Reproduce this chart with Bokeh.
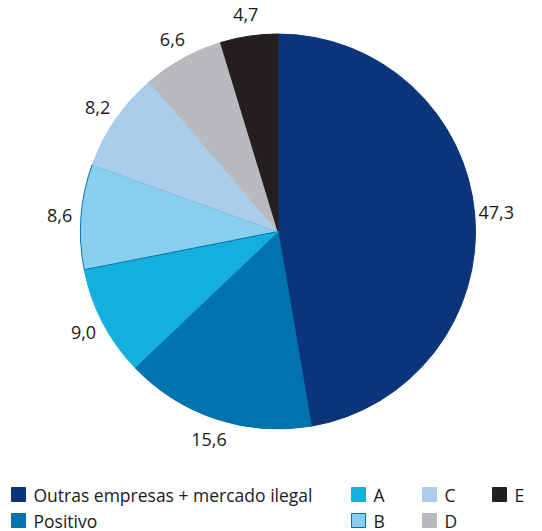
import numpy as np
from bokeh.plotting import figure
from bokeh.models import Range1d, ColumnDataSource
from bokeh.core.properties import value
from bokeh.embed import file_html
from bokeh.resources import INLINE

# ---- data ----
categories = ["Outras empresas + mercado ilegal", "Positivo", "A", "B", "C", "D", "E"]
shares = [47.3, 15.6, 9.0, 8.6, 8.2, 6.6, 4.7]
labels = ["47,3", "15,6", "9,0", "8,6", "8,2", "6,6", "4,7"]
colors = ["#0b357a", "#0073ae", "#13afdf", "#88cfee", "#abcdec", "#b9babd", "#231f20"]
outlines = ["#0b357a", "#0073ae", "#13afdf", "#0073ae", "#abcdec", "#b9babd", "#231f20"]

W, H = 542, 531
p = figure(width=W, height=H, output_backend="svg", toolbar_location=None,
           x_range=Range1d(0, W), y_range=Range1d(0, H), min_border=0)
p.axis.visible = False
p.grid.visible = False
p.outline_line_color = None
p.background_fill_color = "white"

def Y(page_y):
    return H - page_y

cx, cy, r = 277.5, Y(231), 197.5
vals = np.array(shares)
frac = vals / vals.sum()
cum = np.concatenate([[0], np.cumsum(frac)])
start = np.pi / 2 - 2 * np.pi * cum[:-1]
end = np.pi / 2 - 2 * np.pi * cum[1:]
mid = (start + end) / 2

src = ColumnDataSource(dict(start=start, end=end, color=colors, line=outlines))
p.wedge(x=cx, y=cy, radius=r, start_angle="start", end_angle="end", direction="clock",
        fill_color="color", line_color="line", line_width=1, source=src)

lr = 219
p.text(x=cx + lr * np.cos(mid), y=cy + lr * np.sin(mid), text=labels,
       text_align="center", text_baseline="middle", text_font=value("Open Sans"),
       text_font_size="18px", text_color="#1a1a1a")

# ---- legend ----
leg_x = [18, 18, 358, 358, 429, 429, 499]
leg_y = [494, 520, 494, 520, 494, 520, 494]
p.rect(x=leg_x, y=[Y(v) for v in leg_y], width=14, height=14, width_units="screen",
       height_units="screen", fill_color=colors, line_color=outlines, line_width=1)
p.text(x=[v + 15 for v in leg_x], y=[Y(v) for v in leg_y], text=categories,
       text_align="left", text_baseline="middle", text_font=value("Open Sans"),
       text_font_size="17.5px", text_color="#1a1a1a")

open("out.html", "w").write(file_html(p, INLINE))
